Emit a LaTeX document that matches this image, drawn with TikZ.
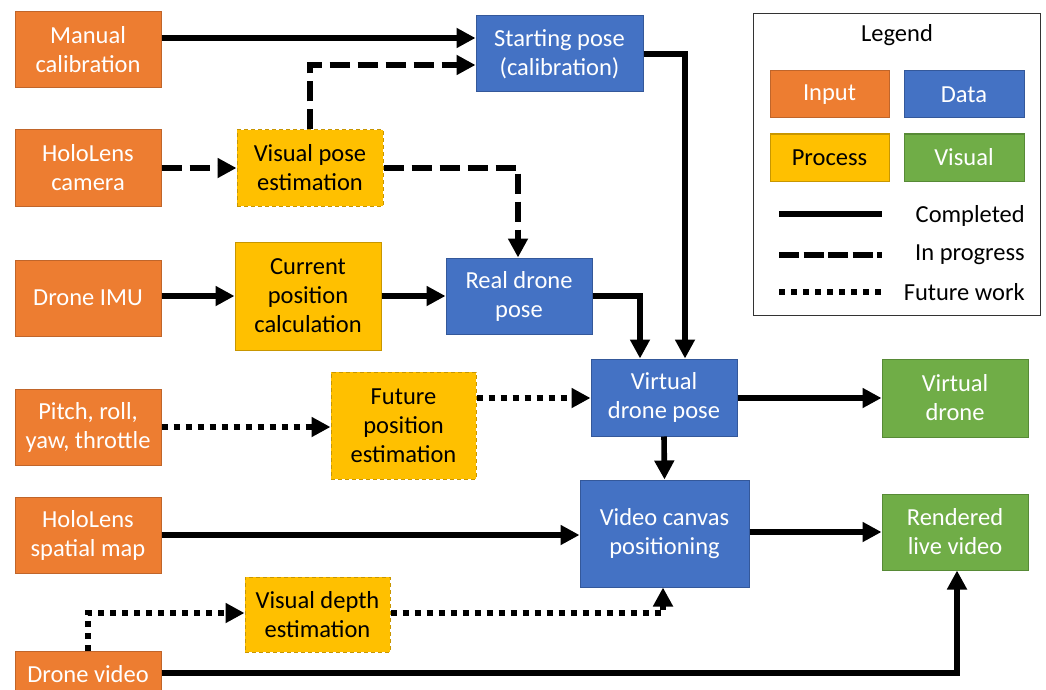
\documentclass[tikz,border=0pt]{standalone}
\usepackage{fontspec}
\setmainfont{Carlito}
\usetikzlibrary{arrows.meta}
\definecolor{inorange}{HTML}{ED7D31}
\definecolor{inorangeb}{HTML}{C0652A}
\definecolor{datablue}{HTML}{4472C4}
\definecolor{datablueb}{HTML}{34589A}
\definecolor{procyellow}{HTML}{FFC000}
\definecolor{procyellowb}{HTML}{C89600}
\definecolor{visgreen}{HTML}{70AD47}
\definecolor{visgreenb}{HTML}{578A36}
\tikzset{
  box/.style={rectangle, line width=1pt, align=center, inner sep=0pt,
    font=\fontsize{24.5}{29}\selectfont},
  inbox/.style={box, fill=inorange, draw=inorangeb, text=white},
  databox/.style={box, fill=datablue, draw=datablueb, text=white},
  procbox/.style={box, fill=procyellow, draw=procyellowb, text=black},
  procdash/.style={procbox, dash pattern=on 4pt off 3pt},
  visbox/.style={box, fill=visgreen, draw=visgreenb, text=white},
  wire/.style={line width=5.6pt, line cap=butt, line join=miter,
    -{Triangle[length=19pt,width=19pt]}},
  done/.style={wire},
  prog/.style={wire, dash pattern=on 20pt off 8pt},
  fut/.style={wire, dash pattern=on 6pt off 6pt},
  legtext/.style={font=\fontsize{24.5}{29}\selectfont, inner sep=0pt}
}
\begin{document}
\begin{tikzpicture}[x=1pt, y=-1pt]
\useasboundingbox[fill=white] (0,0) rectangle (1046,690);

% inputs
\node[inbox, minimum width=146pt, minimum height=76pt] (manual) at (88,50) {Manual\\calibration};
\node[inbox, minimum width=146pt, minimum height=76pt] (cam) at (88,168) {HoloLens\\camera};
\node[inbox, minimum width=146pt, minimum height=76pt] (imu) at (88,298) {Drone IMU};
\node[inbox, minimum width=146pt, minimum height=76pt] (stick) at (88,427) {Pitch, roll,\\yaw, throttle};
\node[inbox, minimum width=146pt, minimum height=76pt] (map) at (88,535) {HoloLens\\spatial map};
\node[inbox, minimum width=146pt, minimum height=46pt] (video) at (88,674) {Drone video};

% processes
\node[procdash, minimum width=146pt, minimum height=76pt] (vpose) at (310,168) {Visual pose\\estimation};
\node[procbox, minimum width=146pt, minimum height=108pt] (curpos) at (308,296) {Current\\position\\calculation};
\node[procdash, minimum width=145pt, minimum height=107pt] (futpos) at (403.5,425.5) {Future\\position\\estimation};
\node[procdash, minimum width=145pt, minimum height=75pt] (depth) at (317.5,614.5) {Visual depth\\estimation};

% data
\node[databox, minimum width=167pt, minimum height=76pt] (start) at (559.5,54) {Starting pose\\(calibration)};
\node[databox, minimum width=146pt, minimum height=76pt] (real) at (519,296) {Real drone\\pose};
\node[databox, minimum width=146pt, minimum height=77pt] (vdp) at (664,397.5) {Virtual\\drone pose};
\node[databox, minimum width=169pt, minimum height=107pt] (canvas) at (664.5,533.5) {Video canvas\\positioning};

% visuals
\node[visbox, minimum width=146pt, minimum height=78pt] (vdrone) at (955,398) {Virtual\\drone};
\node[visbox, minimum width=146pt, minimum height=76pt] (render) at (955,532) {Rendered\\live video};

% connectors
\draw[done] (manual.east |- 0,38) -- (start.west |- 0,38);
\draw[prog] (vpose.north -| 310,0) -- (310,65) -- (start.west |- 0,65);
\draw[prog] (cam.east) -- (vpose.west);
\draw[prog] (vpose.east) -- (518,168) -- (real.north -| 518,0);
\draw[done] (imu.east |- 0,296) -- (curpos.west);
\draw[done] (curpos.east) -- (real.west);
\draw[done] (real.east) -- (640,296) -- (vdp.north -| 640,0);
\draw[done] (start.east) -- (685,54) -- (vdp.north -| 685,0);
\draw[fut] (stick.east) -- (futpos.west |- stick.east);
\draw[fut] (futpos.east |- 0,398) -- (vdp.west |- 0,398);
\draw[done] (vdp.east |- 0,398) -- (vdrone.west |- 0,398);
\draw[done] (vdp.south) -- (canvas.north);
\draw[done] (map.east) -- (canvas.west |- map.east);
\draw[done] (canvas.east |- render.west) -- (render.west);
\coordinate (vtop) at (88,651);
\draw[fut] (vtop) -- (88,613) -- (depth.west |- 0,613);
\draw[fut] (depth.east |- 0,613) -- (663,613) -- (canvas.south -| 663,0);
\draw[done] (video.east |- 0,673) -- (957,673) -- (render.south -| 957,0);

% legend
\node[draw=black!80, line width=1pt, minimum width=287pt, minimum height=301pt, inner sep=0pt] (legend) at (896.5,164.5) {};
\node[legtext] (legtitle) at (897,35) {Legend};
\node[inbox, minimum width=119pt, minimum height=47pt] (lin) at (829.5,94.5) {Input};
\node[databox, minimum width=120pt, minimum height=47pt] (ldata) at (964,94.5) {Data};
\node[procbox, minimum width=119pt, minimum height=47pt] (lproc) at (829.5,157.5) {Process};
\node[visbox, minimum width=120pt, minimum height=47pt] (lvis) at (964,157.5) {Visual};
\coordinate (l1a) at (779,214); \coordinate (l1b) at (882,214);
\coordinate (l2a) at (779,255); \coordinate (l2b) at (882,255);
\coordinate (l3a) at (779,292); \coordinate (l3b) at (882,292);
\draw[line width=5.6pt] (l1a) -- (l1b);
\draw[line width=5.6pt, dash pattern=on 20pt off 4.5pt] (l2a) -- (l2b);
\draw[line width=5.6pt, dash pattern=on 6pt off 6pt] (l3a) -- (l3b);
\node[legtext, anchor=east] (t1) at (1025,216) {Completed};
\node[legtext, anchor=east] (t2) at (1025,255) {In progress};
\node[legtext, anchor=east] (t3) at (1025,292) {Future work};
\end{tikzpicture}
\end{document}
